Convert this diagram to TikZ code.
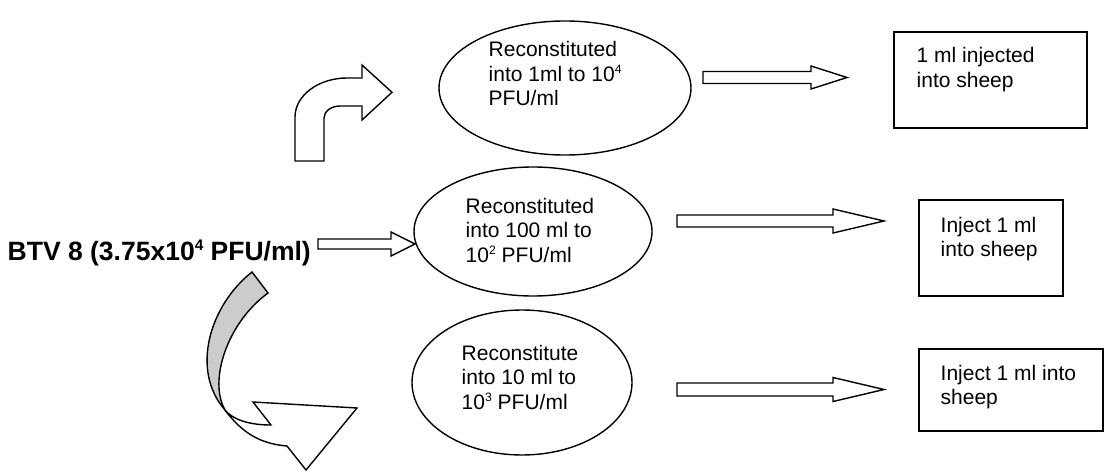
\documentclass[tikz,border=0pt]{standalone}
\usepackage{fontspec}
\usepackage{graphicx}
\setmainfont{Liberation Sans}
\usetikzlibrary{shapes.geometric}
\newcommand\blockarr[6]{%
  \draw[blk] (#1,#4-#5) -- (#2,#4-#5) -- (#2,#4-#6) -- (#3,#4) -- (#2,#4+#6) -- (#2,#4+#5) -- (#1,#4+#5) -- cycle;}
\newcommand\mlines[1]{\begin{tabular}[t]{@{}l@{}}#1\end{tabular}}
\newcommand\sps[1]{\raisebox{0.35em}{\scalebox{0.58}{#1}}}
\begin{document}
\begin{tikzpicture}[x=1pt,y=-1pt,line width=1.4pt,
  blk/.style={draw=black,fill=white,line join=miter},
  txt/.style={anchor=base west,inner sep=0pt,font=\fontsize{21}{24.5}\selectfont},
  ell/.style={draw,ellipse,inner sep=0pt},
  box/.style={draw,rectangle,inner sep=0pt}]
\useasboundingbox (0,0) rectangle (1105,473);

% ellipses
\node[ell,minimum width=252pt,minimum height=134pt] (e1) at (565,88) {};
\node[ell,minimum width=238pt,minimum height=129pt] (e2) at (533,231.5) {};
\node[ell,minimum width=220pt,minimum height=145pt] (e3) at (522,382.5) {};

% boxes
\node[box,minimum width=193pt,minimum height=96pt] (b1) at (990.5,80) {};
\node[box,minimum width=144pt,minimum height=96pt] (b2) at (991,248) {};
\node[box,minimum width=184pt,minimum height=82pt] (b3) at (1011,390) {};

% texts
\node[txt] (t1) at (488,56.7) {\mlines{Reconstituted\\into 1ml to 10\sps{4}\\PFU/ml}};
\node[txt] (t2) at (465,213) {\mlines{Reconstituted\\into 100 ml to\\10\sps{2} PFU/ml}};
\node[txt] (t3) at (461,360) {\mlines{Reconstitute\\into 10 ml to\\10\sps{3} PFU/ml}};
\node[txt] (s1) at (916,63) {\mlines{1 ml injected\\into sheep}};
\node[txt] (s2) at (940,232) {\mlines{Inject 1 ml\\into sheep}};
\node[txt] (s3) at (940,380) {\mlines{Inject 1 ml into\\sheep}};
\node[anchor=base west,inner sep=0pt,font=\bfseries\fontsize{26.5}{31}\selectfont] (src) at (7,260) {BTV 8 (3.75x10\sps{4} PFU/ml)};

% block arrows
\blockarr{318}{391}{415}{244}{5}{12}
\blockarr{703}{811}{847}{77.5}{6}{11.5}
\blockarr{677}{833}{884}{221}{6}{12}
\blockarr{677}{833}{884}{389.5}{6.5}{12}

% bent arrow up-right
\draw[blk] (295,161) -- (295,117) .. controls (295,95.5) and (318.4,78) .. (347,78) -- (362,78) -- (362,65) -- (392,92.3) -- (362,120) -- (362,106) -- (340,106) .. controls (331.2,106) and (324,111.4) .. (324,118) -- (324,161) -- cycle;

% curved arrow down
\draw[fill=black!20,line join=miter] (252,272) .. controls (210,305) and (190,370) .. (225,410) .. controls (208,380) and (228,322) .. (268,293) -- cycle;
\draw[blk] (225,410) .. controls (245,437) and (265,444) .. (287,446) -- (306,470) -- (357,408) -- (253,402) -- (271,425) .. controls (255,425) and (235,422) .. (225,410);
\end{tikzpicture}
\end{document}
